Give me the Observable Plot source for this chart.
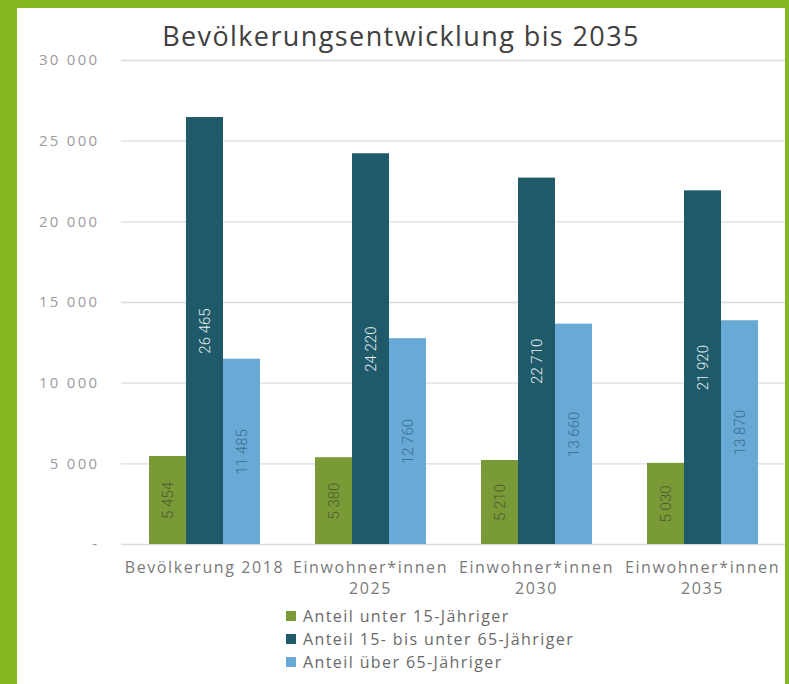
<!DOCTYPE html>
<html>
<head>
<meta charset="utf-8">
<script src="https://cdn.jsdelivr.net/npm/d3@7"></script>
<script src="https://cdn.jsdelivr.net/npm/@observablehq/plot@0.6"></script>
<style>
  html, body { margin: 0; padding: 0; background: #fff; }
  #wrap { position: relative; width: 789px; height: 684px; overflow: hidden; background: #fff; font-family: "Open Sans", sans-serif; }
  .bl { position: absolute; left: 0; top: 0; width: 17px; height: 684px; background: #86b81f; }
  .bt { position: absolute; left: 0; top: 0; width: 789px; height: 8px; background: #86b81f; }
  .br { position: absolute; left: 785px; top: 0; width: 4px; height: 684px; background: #86b81f; }
  #title { position: absolute; left: 0; width: 802px; top: 17px; text-align: center; font-size: 27px; color: #404040; letter-spacing: 1.4px; }
  #chart { position: absolute; left: 0; top: 0; }
  #legend { position: absolute; left: 286px; top: 604px; font-size: 16px; color: #6a6a6a; letter-spacing: 1.4px; }
  #legend .row { display: flex; align-items: center; height: 23px; }
  #legend .sw { width: 10px; height: 10px; margin-right: 7px; }
</style>
</head>
<body>
<div id="wrap">
  <div class="bl"></div><div class="bt"></div><div class="br"></div>
  <div id="title">Bevölkerungsentwicklung bis 2035</div>
  <div id="chart"></div>
  <div id="legend"></div>
</div>
<script>
const groups = ["Bevölkerung 2018", "Einwohner*innen\n2025", "Einwohner*innen\n2030", "Einwohner*innen\n2035"];
const series = ["Anteil unter 15-Jähriger", "Anteil 15- bis unter 65-Jähriger", "Anteil über 65-Jähriger"];
const under15 = [5454, 5380, 5210, 5030];
const age15to65 = [26465, 24220, 22710, 21920];
const over65 = [11485, 12760, 13660, 13870];
const yTicks = [0, 5000, 10000, 15000, 20000, 25000, 30000];
const barColors = ["#7a9a38", "#1e5a69", "#68a9d5"];
const labelColors = ["#4b5c2c", "#e8f0f2", "#3b6d8e"];

const values = [under15, age15to65, over65];
const rows = [];
groups.forEach((g, gi) => series.forEach((s, si) => rows.push({group: g, series: s, value: values[si][gi]})));

const fmt = v => d3.format(",")(v).replace(/,/g, " ");

const marks = [
  Plot.ruleY(yTicks, {stroke: "#dcdcdc", strokeWidth: 1.3}),
  Plot.barY(rows, {x: "series", y: "value", fill: "series"})
];
series.forEach((s, si) => {
  marks.push(Plot.text(rows, {
    filter: d => d.series === s,
    x: "series", y: d => d.value / 2, text: d => fmt(d.value),
    rotate: -90, fill: labelColors[si],
    fontFamily: "Roboto, sans-serif", fontWeight: 300,
    fontSize: 15
  }));
});
marks.push(Plot.axisY({ticks: yTicks, tickFormat: d => d === 0 ? "-" : fmt(d), tickSize: 0, tickPadding: 22, label: null, fontSize: 15, fill: "#9c9c9c"}));
marks.push(Plot.axisFx({anchor: "bottom", tickSize: 0, tickPadding: 13, label: null, fontSize: 16, lineHeight: 1.35, fill: "#7a7a7a", tickFormat: d => d}));

const plot = Plot.plot({
  width: 789,
  height: 600,
  marginLeft: 120,
  marginRight: 4,
  marginTop: 60,
  marginBottom: 56,
  style: {fontFamily: "'Open Sans', sans-serif", fontSize: "14px", color: "#8a8a8a", background: "transparent"},
  facet: {data: rows, x: "group"},
  fx: {domain: groups, padding: 0, paddingInner: 0, paddingOuter: 0, label: null},
  x: {domain: series, paddingInner: 0, paddingOuter: 0.74, axis: null},
  y: {domain: [0, 30000], label: null},
  color: {domain: series, range: barColors},
  marks
});
document.getElementById("chart").appendChild(plot);

plot.querySelectorAll("g[aria-label='fx-axis tick label'] text").forEach(t => { t.style.letterSpacing = "1.6px"; });
plot.querySelectorAll("g[aria-label='y-axis tick label'] text").forEach(t => { t.style.letterSpacing = "2.3px"; });

const legend = document.getElementById("legend");
series.forEach((s, si) => {
  const row = document.createElement("div"); row.className = "row";
  const sw = document.createElement("div"); sw.className = "sw"; sw.style.background = barColors[si];
  const tx = document.createElement("span"); tx.textContent = s;
  row.appendChild(sw); row.appendChild(tx); legend.appendChild(row);
});
</script>
</body>
</html>
